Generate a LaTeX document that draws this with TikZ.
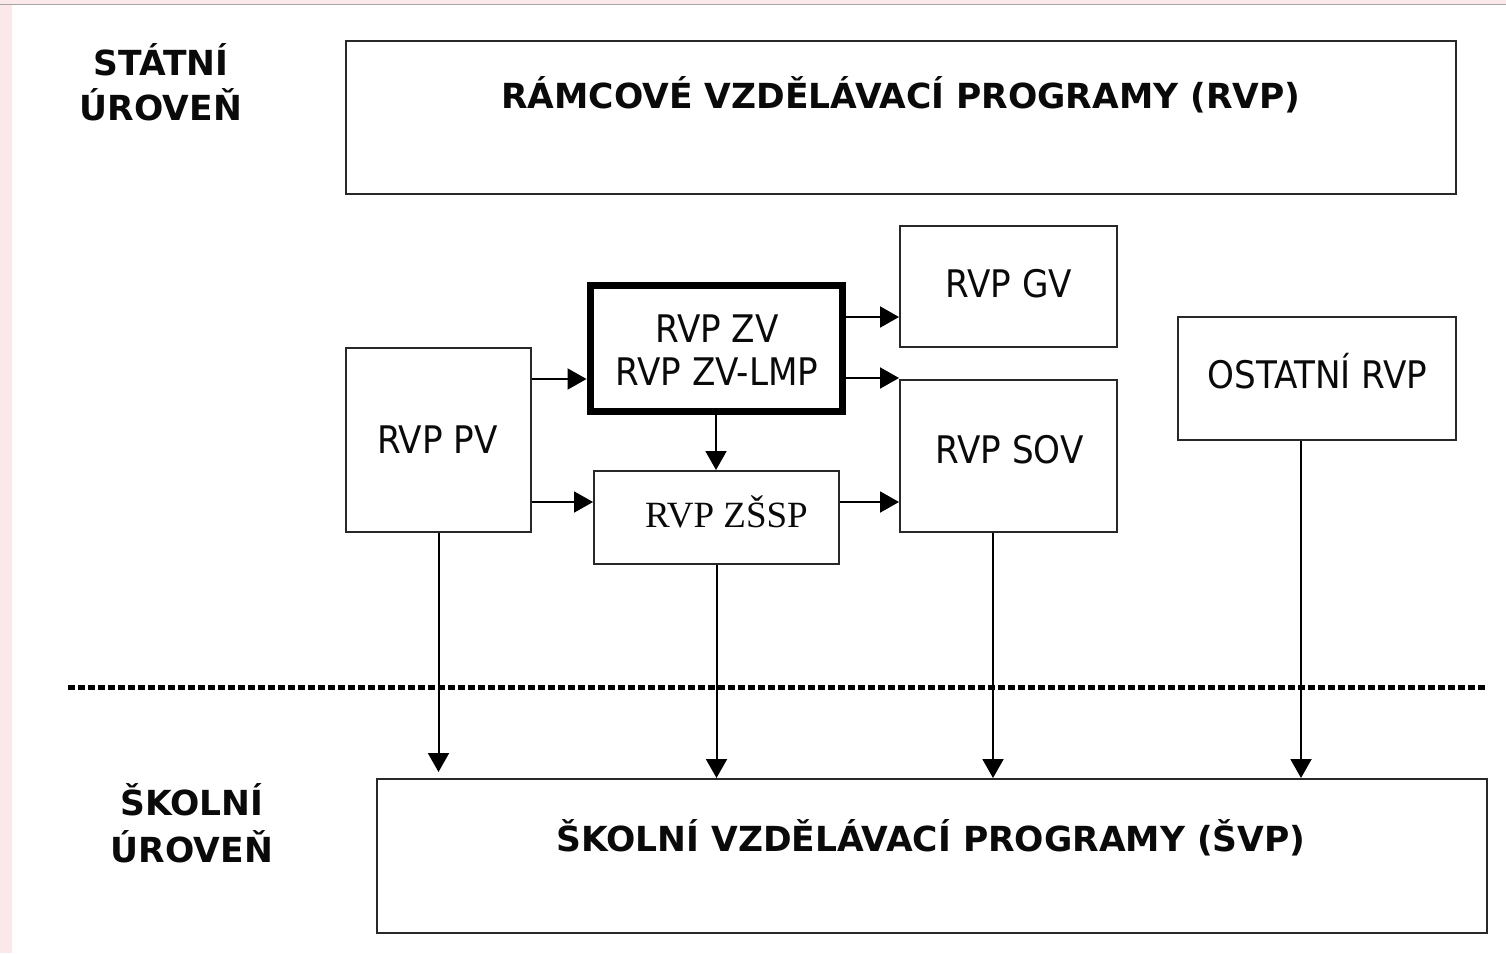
\documentclass[tikz,border=0pt]{standalone}
\usepackage{fontspec}
\usetikzlibrary{arrows.meta}
\newfontfamily\regf{DejaVu Sans Condensed}
\newfontfamily\boldf{DejaVu Sans}
\newfontfamily\serf{Liberation Serif}
\definecolor{pinkbg}{RGB}{250,232,234}
\definecolor{boxline}{RGB}{40,40,40}
\definecolor{txtc}{RGB}{10,10,10}
\tikzset{
  boxs/.style={draw=boxline, line width=2pt, inner sep=0pt, fill=white},
  txt/.style={inner sep=0pt, anchor=base, text=txtc},
  regtxt/.style={txt, font=\regf\fontsize{38pt}{44pt}\selectfont},
  boldtxt/.style={txt, font=\boldf\bfseries\fontsize{34.5pt}{40pt}\selectfont},
  sertxt/.style={txt, font=\serf\fontsize{37pt}{44pt}\selectfont},
  arr/.style={draw=black, line width=2pt, -{Triangle[length=19pt,width=21pt]}},
}
\begin{document}
\begin{tikzpicture}[x=1pt,y=-1pt]
\useasboundingbox (0,0) rectangle (1506,953);
\fill[white] (0,0) rectangle (1506,953);
\fill[pinkbg] (0,0) rectangle (12,953);
\fill[pinkbg] (0,0) rectangle (1506,4);
\draw[gray!70, line width=1.5pt] (0,4.5) -- (1506,4.5);

% level labels
\node[boldtxt] (st1) at (161,75) {STÁTNÍ};
\node[boldtxt] (st2) at (161,120) {ÚROVEŇ};
\node[boldtxt] (sk1) at (192,815) {ŠKOLNÍ};
\node[boldtxt] (sk2) at (192,862) {ÚROVEŇ};

% boxes
\node[boxs, minimum width=1110pt, minimum height=153pt] (rvp) at (901,117.5) {};
\node[boldtxt] (rvpt) at (901,108) {RÁMCOVÉ VZDĚLÁVACÍ PROGRAMY (RVP)};

\node[boxs, minimum width=185pt, minimum height=184pt] (pv) at (438.5,440) {};
\node[regtxt] (pvt) at (437.5,453) {RVP PV};

\node[boxs, line width=7pt, draw=black, minimum width=252pt, minimum height=126pt] (zv) at (716,348) {};
\node[regtxt] (zvt1) at (717,342) {RVP ZV};
\node[regtxt] (zvt2) at (717,385) {RVP ZV-LMP};

\node[boxs, minimum width=217pt, minimum height=121pt] (gv) at (1008.5,286.5) {};
\node[regtxt] (gvt) at (1009,297) {RVP GV};

\node[boxs, minimum width=217pt, minimum height=152pt] (sov) at (1008.5,456) {};
\node[regtxt] (sovt) at (1009.5,463) {RVP SOV};

\node[boxs, minimum width=245pt, minimum height=93pt] (zssp) at (716.5,517.5) {};
\node[sertxt] (zsspt) at (726.5,527) {RVP ZŠSP};

\node[boxs, minimum width=278pt, minimum height=123pt] (ost) at (1317,378.5) {};
\node[regtxt] (ostt) at (1317.5,388) {OSTATNÍ RVP};

\node[boxs, minimum width=1110pt, minimum height=154pt] (svp) at (932,856) {};
\node[boldtxt] (svpt) at (931,851) {ŠKOLNÍ VZDĚLÁVACÍ PROGRAMY (ŠVP)};

% dotted separator
\draw[black, line width=5pt, dash pattern=on 7pt off 3pt] (68,687) -- (1488,687);

% connectors
\draw[arr] (pv.east |- 0,379) -- (zv.west |- 0,379);
\draw[arr] (pv.east |- 0,502) -- (zssp.west |- 0,502);
\draw[arr] (zv.east |- 0,317) -- (gv.west |- 0,317);
\draw[arr] (zv.east |- 0,378) -- (sov.west |- 0,378);
\draw[arr] (zssp.east |- 0,502) -- (sov.west |- 0,502);
\draw[arr] (zv.south) -- (zv.south |- zssp.north);
\draw[arr, shorten >=6pt] (pv.south) -- (pv.south |- svp.north);
\draw[arr] (zssp.south) -- (zssp.south |- svp.north);
\draw[arr] (sov.south -| 993,0) -- (svp.north -| 993,0);
\draw[arr] (ost.south -| 1301,0) -- (svp.north -| 1301,0);
\end{tikzpicture}
\end{document}
